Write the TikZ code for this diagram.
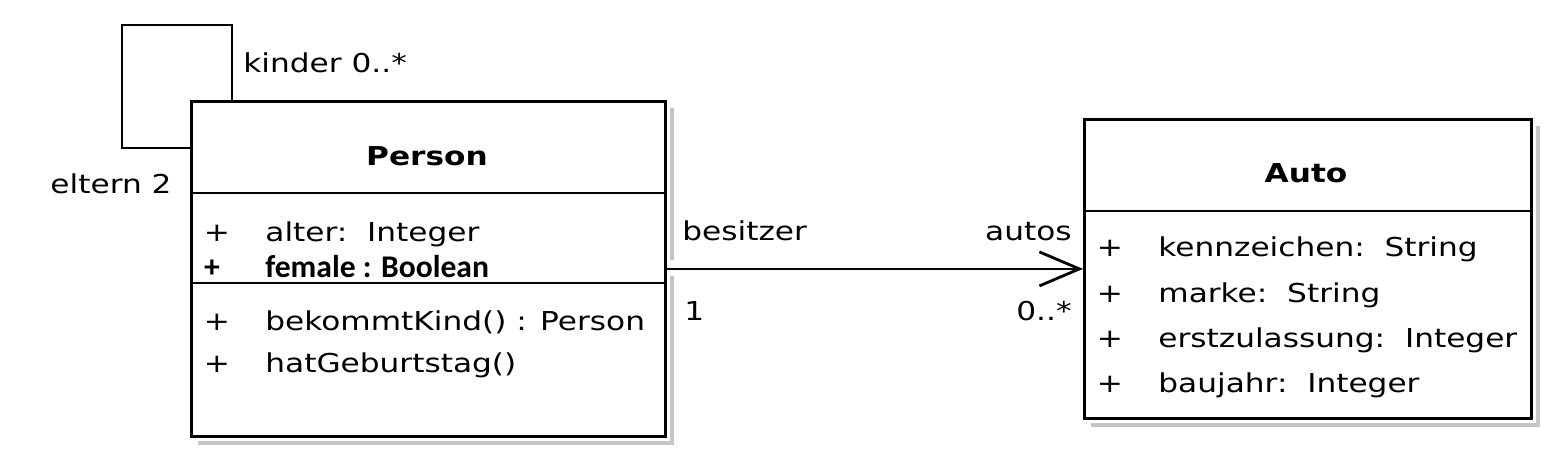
\documentclass[tikz,border=0pt]{standalone}
\usepackage{fontspec}
\setmainfont{DejaVu Sans}[FakeStretch=1.2]
\newfontfamily\calib{Carlito}
\usetikzlibrary{arrows.meta}

\tikzset{
  cls/.style={draw,line width=1.4pt,anchor=north west,inner sep=0pt},
  sep/.style={line width=1.4pt},
  txt/.style={anchor=base west,inner sep=0pt},
  rtxt/.style={anchor=base east,inner sep=0pt},
  vis/.style={anchor=base,inner sep=0pt},
  shade/.style={gray!45,line width=2pt}
}

\begin{document}
\begin{tikzpicture}[x=0.5pt,y=-0.5pt,>={Straight Barb[length=20pt,width=17pt]},
  font=\fontsize{13}{15}\selectfont]
  \useasboundingbox (0,0) rectangle (1560,461);
  % shadows
  \draw[shade] (198,443) -| (672,276);
  \draw[shade] (672,260) -- (672,108);
  \draw[shade] (1091,425) -| (1538,126);
  % Person
  \node[cls,fill=white,minimum width=237pt,minimum height=167.5pt] (person) at (190,100) {};
  \draw[sep] (190,193) -- (664,193);
  \draw[sep] (190,283) -- (664,283);
  \node[vis,font=\fontsize{13}{15}\selectfont\bfseries] (pname) at (427,165) {Person};
  \node[vis] (pv1) at (217,241) {+};
  \node[txt] (pa1) at (265,241) {alter:\ \ Integer};
  \node[vis,font=\fontsize{15.8}{17}\calib\bfseries] (pv2) at (212,277) {+};
  \node[txt,font=\fontsize{15.8}{17}\calib\bfseries] (pa2) at (265,277) {female : Boolean};
  \node[vis] (pv3) at (217,330) {+};
  \node[txt] (pm1) at (265,330) {bekommtKind() : Person};
  \node[vis] (pv4) at (217,372) {+};
  \node[txt] (pm2) at (265,372) {hatGeburtstag()};
  % self association
  \coordinate (k) at ([xshift=21pt]person.north west);
  \coordinate (e) at ([yshift=-24pt]person.north west);
  \draw[sep] (k) |- (122,25) |- (e);
  \node[txt] (kinder) at (243,72) {kinder 0..*};
  \node[rtxt] (eltern) at (172,193) {eltern 2};
  % Auto
  \node[cls,fill=white,minimum width=223.5pt,minimum height=149.5pt] (auto) at (1083,118) {};
  \draw[sep] (1083,211) -- (1530,211);
  \node[vis,font=\fontsize{13}{15}\selectfont\bfseries] (aname) at (1306,182) {Auto};
  \node[vis] (av1) at (1110,256) {+};
  \node[txt] (aa1) at (1158,256) {kennzeichen:\ \ String};
  \node[vis] (av2) at (1110,302) {+};
  \node[txt] (aa2) at (1158,302) {marke:\ \ String};
  \node[vis] (av3) at (1110,347) {+};
  \node[txt] (aa3) at (1158,347) {erstzulassung:\ \ Integer};
  \node[vis] (av4) at (1110,392) {+};
  \node[txt] (aa4) at (1158,392) {baujahr:\ \ Integer};
  % association
  \draw[sep,->] (person.east) -- (auto.west);
  \node[txt] (besitzer) at (682,240) {besitzer};
  \node[txt] (eins) at (684,320) {1};
  \node[rtxt] (autos) at (1072,240) {autos};
  \node[rtxt] (viele) at (1072,320) {0..*};
\end{tikzpicture}
\end{document}
